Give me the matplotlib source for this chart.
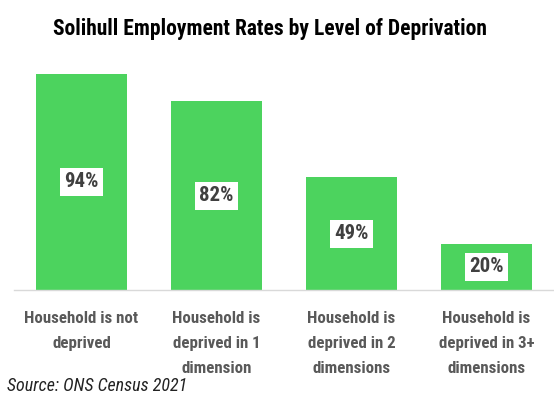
import matplotlib
matplotlib.use("Agg")
import matplotlib.pyplot as plt

categories = [
    "Household is not\ndeprived",
    "Household is\ndeprived in 1\ndimension",
    "Household is\ndeprived in 2\ndimensions",
    "Household is\ndeprived in 3+\ndimensions",
]
rates = [94, 82, 49, 20]
title = "Solihull Employment Rates by Level of Deprivation"
source = "Source: ONS Census 2021"

plt.rcParams["font.family"] = ["Roboto Condensed", "DejaVu Sans"]

W, H = 554, 399
fig = plt.figure(figsize=(W / 100, H / 100), dpi=100)
ax = fig.add_axes([14 / W, (H - 290) / H, 540 / W, 230 / H])

x = range(len(categories))
ax.bar(x, rates, width=0.667, color="#4CD35E", zorder=2)
ax.set_xlim(-0.5, len(categories) - 0.5)
ax.set_ylim(0, 100)

for xi, v in zip(x, rates):
    ax.text(xi, v / 2, f"{v}%", ha="center", va="center", fontsize=15,
            fontweight="bold", color="#404040",
            bbox=dict(boxstyle="square,pad=0.22", fc="white", ec="none"))

for s in ["top", "right", "left"]:
    ax.spines[s].set_visible(False)
ax.spines["bottom"].set_color("#D9D9D9")
ax.spines["bottom"].set_linewidth(1)
ax.set_yticks([])
ax.set_xticks(list(x))
ax.set_xticklabels(categories, fontsize=12.2, fontweight="bold", color="#595959",
                   linespacing=1.85, va="top")
ax.tick_params(axis="x", length=0, pad=15)

fig.text(270 / W, 1 - 29 / H, title, ha="center", va="center", fontsize=15.5,
         fontweight="bold", color="black")
fig.text(7 / W, 1 - 386 / H, source, ha="left", va="center", fontsize=13,
         style="italic", color="#222222")

fig.savefig("out.png", dpi=100)
